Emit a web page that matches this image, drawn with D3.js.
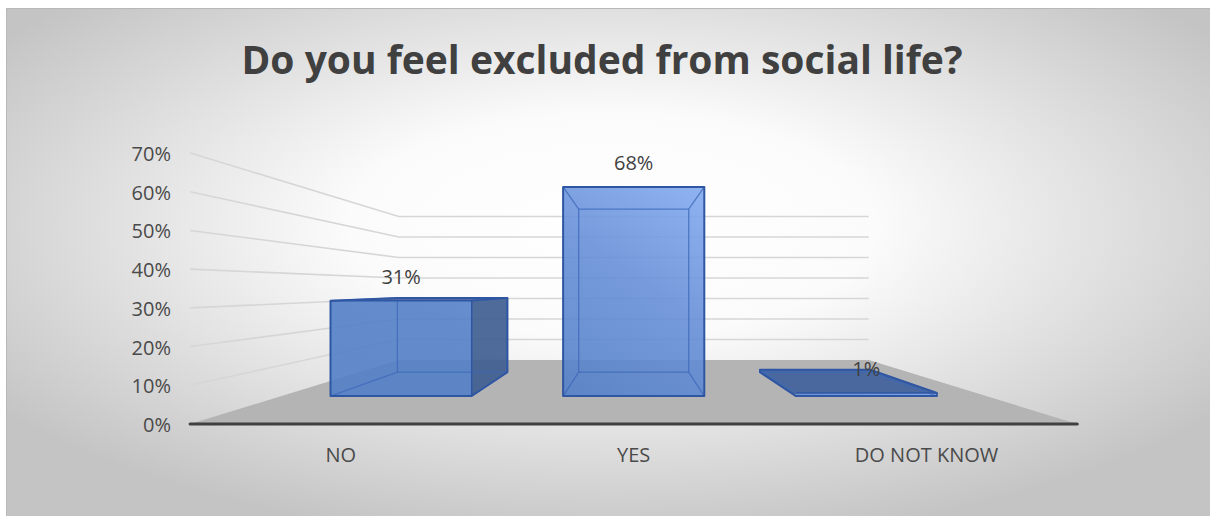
<!DOCTYPE html>
<html>
<head>
<meta charset="utf-8">
<script src="https://cdn.jsdelivr.net/npm/d3@7"></script>
<style>
  html, body { margin: 0; padding: 0; background: #ffffff; }
  svg { display: block; }
</style>
</head>
<body>
<svg id="chart" width="1210" height="516"></svg>
<script>
// ---- data ----
const title = "Do you feel excluded from social life?";
const categories = ["NO", "YES", "DO NOT KNOW"];
const values = [0.31, 0.68, 0.01];
const valueLabels = ["31%", "68%", "1%"];
const yTicks = [0, 0.1, 0.2, 0.3, 0.4, 0.5, 0.6, 0.7];
const yTickLabels = ["0%", "10%", "20%", "30%", "40%", "50%", "60%", "70%"];

// ---- 3D setup ----
const W = 1210, H = 516;
const VPX = 633.7, VPY = 288, D = 1000;
const xScale = d3.scaleBand().domain(categories).range([-443.5, 443.5])
  .paddingInner(0.393).paddingOuter(0.211);
const yScale = d3.scaleLinear().domain([0, 0.7]).range([0, 271]);
const CAMY = yScale(0.3513);
const zFront = 0, zBarFront = 259, zBarBack = 615, zWall = 887;

function proj(X, Y, Z) {
  const s = D / (D + Z);
  return [VPX + X * s, VPY - (Y - CAMY) * s];
}
const line = d3.line();

const svg = d3.select("#chart");
const defs = svg.append("defs");

// background gradient
const bg = defs.append("radialGradient").attr("id", "bg")
  .attr("cx", "0.5").attr("cy", "0.42").attr("r", "0.62").attr("fx", "0.5").attr("fy", "0.42");
bg.append("stop").attr("offset", "0").attr("stop-color", "#ffffff");
bg.append("stop").attr("offset", "0.35").attr("stop-color", "#fbfbfb");
bg.append("stop").attr("offset", "1").attr("stop-color", "#c4c4c4");

const fg = defs.append("linearGradient").attr("id", "faceGrad")
  .attr("gradientUnits", "userSpaceOnUse")
  .attr("x1", 560).attr("y1", 400).attr("x2", 712).attr("y2", 182);
fg.append("stop").attr("offset", "0").attr("stop-color", "#5380c8");
fg.append("stop").attr("offset", "0.55").attr("stop-color", "#6890d8");
fg.append("stop").attr("offset", "1").attr("stop-color", "#86adf2");

svg.append("rect").attr("x", 6.5).attr("y", 8.5).attr("width", W).attr("height", H)
  .attr("fill", "url(#bg)").attr("stroke", "#b8b8b8").attr("stroke-width", 1);

// title
svg.append("text").attr("x", 602).attr("y", 74)
  .attr("text-anchor", "middle")
  .attr("font-family", "'Open Sans', sans-serif").attr("font-weight", 700)
  .attr("font-size", 40).attr("fill", "#404040")
  .attr("textLength", 721).attr("lengthAdjust", "spacingAndGlyphs")
  .text(title);

// gridlines on left wall + back wall
const xL = -443.5, xR = 443.5;
const grid = svg.append("g");
yTicks.filter(t => t > 0).forEach(t => {
  const Y = yScale(t);
  grid.append("path")
    .attr("d", line([proj(xL, Y, zFront), proj(xL, Y, zWall), proj(xR, Y, zWall)]))
    .attr("fill", "none").attr("stroke", "#d6d6d6").attr("stroke-width", 1.6);
});

// floor
svg.append("path")
  .attr("d", line([proj(xL, 0, zFront), proj(xL, 0, zWall), proj(xR, 0, zWall), proj(xR, 0, zFront)]) + "Z")
  .attr("fill", "#b4b4b4");

// front axis line
svg.append("path")
  .attr("d", line([proj(xL, 0, zFront), proj(xR, 0, zFront)]))
  .attr("stroke", "#404040").attr("stroke-width", 3.2).attr("stroke-linecap", "round");

// y tick labels
svg.append("g").selectAll("text").data(yTicks).join("text")
  .attr("x", 171)
  .attr("y", (d) => proj(xL, yScale(d), zFront)[1] + 8)
  .attr("text-anchor", "end")
  .attr("font-family", "'Open Sans', sans-serif").attr("font-size", 20)
  .attr("fill", "#4a4a4a")
  .text((d, i) => yTickLabels[i]);

// category labels
svg.append("g").selectAll("text").data(categories).join("text")
  .attr("x", (d) => proj(xScale(d) + xScale.bandwidth() / 2, 0, zFront)[0])
  .attr("y", 462)
  .attr("text-anchor", "middle")
  .attr("font-family", "'Open Sans', sans-serif").attr("font-size", 20)
  .attr("fill", "#4a4a4a")
  .text((d) => d);

// bars
const barsG = svg.append("g");
categories.forEach((c, i) => {
  const x0 = xScale(c), x1 = x0 + xScale.bandwidth();
  const yTop = yScale(values[i]);
  const z0 = zBarFront, z1 = zBarBack;
  const P = (x, y, z) => proj(x, y, z);
  const fbl = P(x0, 0, z0), fbr = P(x1, 0, z0), ftl = P(x0, yTop, z0), ftr = P(x1, yTop, z0);
  const bbl = P(x0, 0, z1), bbr = P(x1, 0, z1), btl = P(x0, yTop, z1), btr = P(x1, yTop, z1);
  const g = barsG.append("g");
  if (x1 < 0) {
    g.append("path").attr("d", line([fbr, bbr, btr, ftr]) + "Z")
      .attr("fill", "#3f5e90").attr("fill-opacity", 0.92);
  }
  if (x0 > 0) {
    g.append("path").attr("d", line([fbl, bbl, btl, ftl]) + "Z")
      .attr("fill", "#3f5e90").attr("fill-opacity", 0.92);
  }
  if (yTop < CAMY) {
    g.append("path").attr("d", line([ftl, ftr, btr, btl]) + "Z")
      .attr("fill", "#44649c").attr("fill-opacity", 0.95);
  }
  g.append("path").attr("d", line([fbl, fbr, ftr, ftl]) + "Z")
    .attr("fill", "url(#faceGrad)").attr("fill-opacity", 0.9);
  const hidden = [[bbl, bbr], [bbr, btr], [btr, btl], [btl, bbl], [fbl, bbl], [fbr, bbr], [ftl, btl], [ftr, btr]];
  hidden.forEach(e => {
    g.append("path").attr("d", line(e)).attr("stroke", "#3c68b8")
      .attr("stroke-width", 1.3).attr("stroke-opacity", 0.75).attr("fill", "none");
  });
  const outline = (x1 < 0 && yTop < CAMY) ? [fbl, fbr, bbr, btr, btl, ftl]
    : (x0 > 0 && yTop < CAMY) ? [fbl, fbr, ftr, btr, btl, bbl]
    : (x1 < 0) ? [fbl, fbr, bbr, btr, ftr, ftl]
    : [fbl, fbr, ftr, ftl];
  g.append("path").attr("d", line(outline) + "Z")
    .attr("fill", "none").attr("stroke", "#2f56a3").attr("stroke-width", 2).attr("stroke-linejoin", "round");
  if (x1 < 0) {
    g.append("path").attr("d", line([fbr, ftr, ...(yTop < CAMY ? [btr] : [])]))
      .attr("fill", "none").attr("stroke", "#2f56a3").attr("stroke-width", 1.5);
  }
  if (yTop < CAMY) {
    g.append("path").attr("d", line([ftl, ftr]))
      .attr("fill", "none").attr("stroke", "#2f56a3").attr("stroke-width", 1.5);
  }
  svg.append("text")
    .attr("x", (ftl[0] + ftr[0]) / 2)
    .attr("y", ftl[1] - 17)
    .attr("text-anchor", "middle")
    .attr("font-family", "'Open Sans', sans-serif").attr("font-size", 20)
    .attr("fill", "#404040")
    .text(valueLabels[i]);
});
</script>
</body>
</html>
